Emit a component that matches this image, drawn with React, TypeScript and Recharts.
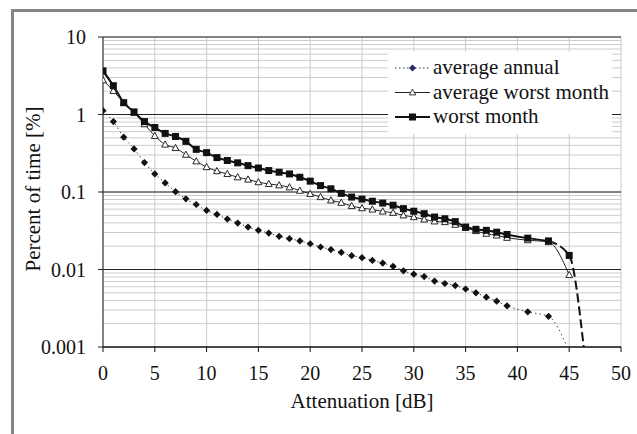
import React from "react";
import {
  LineChart,
  Line,
  XAxis,
  YAxis,
  CartesianGrid,
  ReferenceLine,
  Label,
} from "recharts";

// attenuation [dB] at which the curves were sampled
const attenuation = [
  0, 1, 2, 3, 4, 5, 6, 7, 8, 9, 10, 11, 12, 13, 14, 15, 16, 17, 18, 19, 20,
  21, 22, 23, 24, 25, 26, 27, 28, 29, 30, 31, 32, 33, 34, 35, 36, 37, 38, 39,
  41, 43, 45,
];

// percent of time [%]
const avgAnnual = [
  1.12, 0.81, 0.51, 0.36, 0.24, 0.171, 0.131, 0.101, 0.0817, 0.069, 0.0578,
  0.0513, 0.0447, 0.0397, 0.0353, 0.032, 0.0295, 0.0268, 0.025, 0.0234,
  0.0215, 0.0195, 0.0181, 0.0166, 0.0151, 0.0142, 0.0131, 0.0121, 0.011,
  0.0096, 0.0087, 0.0081, 0.0071, 0.0066, 0.0062, 0.0056, 0.005, 0.0044,
  0.0039, 0.0034, 0.00284, 0.00249,
];
const avgAnnualEnd = { x: 44.8, y: 0.001 };

const avgWorstMonth = [
  2.77, 2.02, 1.42, 1.05, 0.75, 0.53, 0.41, 0.37, 0.303, 0.249, 0.21, 0.186,
  0.171, 0.155, 0.145, 0.134, 0.127, 0.122, 0.115, 0.104, 0.0947, 0.0861,
  0.0781, 0.0728, 0.066, 0.0619, 0.0595, 0.0561, 0.054, 0.05, 0.0475, 0.0443,
  0.0418, 0.041, 0.0379, 0.0345, 0.0314, 0.029, 0.0275, 0.0257, 0.0239,
  0.0226, 0.0085,
];

const worstMonth = [
  3.65, 2.35, 1.42, 1.08, 0.81, 0.68, 0.57, 0.52, 0.45, 0.355, 0.322, 0.278,
  0.255, 0.238, 0.219, 0.204, 0.189, 0.18, 0.171, 0.155, 0.138, 0.121, 0.11,
  0.096, 0.086, 0.081, 0.076, 0.072, 0.0675, 0.061, 0.0565, 0.0525, 0.0475,
  0.0452, 0.0415, 0.0353, 0.033, 0.032, 0.0303, 0.0283, 0.0254, 0.0234,
  0.0152,
];
const worstMonthEnd = { x: 46.4, y: 0.001 };

const seriesNames = ["average annual", "average worst month", "worst month"];

const xTicks = [0, 5, 10, 15, 20, 25, 30, 35, 40, 45, 50];
const decades = [0.001, 0.01, 0.1, 1, 10];
const yGridValues = [
  0.001, 0.002, 0.003, 0.004, 0.005, 0.006, 0.007, 0.008, 0.009,
  0.01, 0.02, 0.03, 0.04, 0.05, 0.06, 0.07, 0.08, 0.09,
  0.1, 0.2, 0.3, 0.4, 0.5, 0.6, 0.7, 0.8, 0.9,
  1, 2, 3, 4, 5, 6, 7, 8, 9, 10,
];

const FONT = "'Liberation Serif', 'Times New Roman', serif";
const TICK_SIZE = 5;
const TICK_MARGIN = 12;

type Row = { x: number; y: number; mark: boolean };

const rows = (xs: number[], ys: number[]): Row[] =>
  ys.map((y, i) => ({ x: xs[i], y, mark: true }));

const annualData: Row[] = [
  ...rows(attenuation, avgAnnual),
  { ...avgAnnualEnd, mark: false },
];
const avgWorstData: Row[] = rows(attenuation, avgWorstMonth);
// solid part up to 43 dB, dashed fall-off afterwards
const worstData: Row[] = rows(attenuation, worstMonth).filter((r) => r.x <= 43);
const worstTail: Row[] = [
  ...rows(attenuation, worstMonth).filter((r) => r.x >= 43),
  { ...worstMonthEnd, mark: false },
].map((r) => ({ ...r, mark: r.x === 45 }));

const Diamond = (p: any) => {
  const { cx, cy, payload, index } = p;
  if (!payload?.mark || cx == null) return <g key={`d${index}`} />;
  const r = 3.6;
  return (
    <polygon
      key={`d${index}`}
      points={`${cx},${cy - r} ${cx + r},${cy} ${cx},${cy + r} ${cx - r},${cy}`}
      fill="#111"
    />
  );
};

const Triangle = (p: any) => {
  const { cx, cy, payload, index } = p;
  if (!payload?.mark || cx == null) return <g key={`t${index}`} />;
  return (
    <polygon
      key={`t${index}`}
      points={`${cx},${cy - 3.6} ${cx + 3.4},${cy + 2.6} ${cx - 3.4},${cy + 2.6}`}
      fill="#fff"
      stroke="#111"
      strokeWidth={0.9}
    />
  );
};

const Square = (p: any) => {
  const { cx, cy, payload, index } = p;
  if (!payload?.mark || cx == null) return <g key={`s${index}`} />;
  return <rect key={`s${index}`} x={cx - 3.5} y={cy - 3.5} width={7} height={7} fill="#111" />;
};

const YTick = (p: any) => {
  const { x, y, payload } = p;
  const v = payload.value;
  if (!decades.includes(v)) return <g />;
  const lx = x + TICK_MARGIN;
  return (
    <g>
      <line x1={lx} x2={lx + TICK_SIZE} y1={y} y2={y} stroke="#222" />
      <text x={x} y={y} dy="0.355em" textAnchor="end" fontFamily={FONT} fontSize={20} fill="#111">
        {String(v)}
      </text>
    </g>
  );
};

const LegendBox = () => {
  const kinds = ["diamond", "triangle", "square"];
  return (
    <svg width={224} height={82} style={{ display: "block" }}>
      {seriesNames.map((name, i) => {
        const kind = kinds[i];
        const cy = 16 + i * 24.5;
        const mx = 24.5;
        return (
          <g key={name}>
            {kind === "diamond" && (
              <>
                <line x1={7} x2={42} y1={cy} y2={cy} stroke="#333" strokeDasharray="1.5 2.5" />
                <polygon
                  points={`${mx},${cy - 3.5} ${mx + 3.5},${cy} ${mx},${cy + 3.5} ${mx - 3.5},${cy}`}
                  fill="#2a2a70"
                />
              </>
            )}
            {kind === "triangle" && (
              <>
                <line x1={7} x2={42} y1={cy} y2={cy} stroke="#222" strokeWidth={1} />
                <polygon
                  points={`${mx},${cy - 3.4} ${mx + 3.2},${cy + 2.4} ${mx - 3.2},${cy + 2.4}`}
                  fill="#fff"
                  stroke="#222"
                  strokeWidth={0.9}
                />
              </>
            )}
            {kind === "square" && (
              <>
                <line x1={7} x2={42} y1={cy} y2={cy} stroke="#111" strokeWidth={2.2} />
                <rect x={mx - 3.5} y={cy - 3.5} width={7} height={7} fill="#111" />
              </>
            )}
            <text x={45} y={cy + 6} fontFamily={FONT} fontSize={21} fill="#111">
              {name}
            </text>
          </g>
        );
      })}
    </svg>
  );
};

export default function App() {
  return (
    <div style={{ position: "absolute", left: 0, top: 0, width: 637, height: 434, background: "#fff" }}>
      <div style={{ position: "absolute", left: 11, top: 9, width: 3, height: 425, background: "#858585" }} />
      <div style={{ position: "absolute", left: 11, top: 9, width: 626, height: 3, background: "#858585" }} />
      <LineChart
        width={637}
        height={434}
        margin={{ top: 37, right: 16, bottom: 27, left: 0 }}
        style={{ position: "absolute", left: 0, top: 0 }}
      >
        <CartesianGrid horizontalStroke="#a8a8a8" verticalStroke="#5a5a5a" strokeWidth={1} />
        {decades.map((d) => (
          <ReferenceLine key={d} y={d} stroke="#222" strokeWidth={1.2} />
        ))}
        <XAxis
          dataKey="x"
          type="number"
          domain={[0, 50]}
          ticks={xTicks}
          height={60}
          allowDataOverflow
          stroke="#111"
          tickSize={TICK_SIZE}
          tickMargin={14}
          tick={{ fontFamily: FONT, fontSize: 20, fill: "#111" }}
        >
          <Label
            content={(props: any) => {
              const vb = props.viewBox;
              return (
                <text
                  x={vb.x + vb.width / 2}
                  y={vb.y + 61}
                  textAnchor="middle"
                  fontFamily={FONT}
                  fontSize={21}
                  fill="#111"
                >
                  Attenuation [dB]
                </text>
              );
            }}
          />
        </XAxis>
        <YAxis
          dataKey="y"
          scale="log"
          domain={[0.001, 10]}
          ticks={yGridValues}
          width={103}
          allowDataOverflow
          stroke="#222"
          tickLine={false}
          tickSize={TICK_SIZE}
          tickMargin={TICK_MARGIN}
          tick={<YTick />}
          interval={0}
        >
          <Label
            content={(props: any) => {
              const vb = props.viewBox;
              const cy = vb.y + vb.height / 2 - 3;
              return (
                <text
                  x={40}
                  y={cy}
                  transform={`rotate(-90 40 ${cy})`}
                  textAnchor="middle"
                  fontFamily={FONT}
                  fontSize={21}
                  fill="#111"
                >
                  Percent of time [%]
                </text>
              );
            }}
          />
        </YAxis>
        <Line
          data={annualData}
          dataKey="y"
          name={seriesNames[0]}
          type="monotone"
          stroke="#444"
          strokeWidth={1}
          strokeDasharray="1.5 3"
          dot={Diamond}
          activeDot={false}
          isAnimationActive={false}
        />
        <Line
          data={avgWorstData}
          dataKey="y"
          name={seriesNames[1]}
          type="monotone"
          stroke="#222"
          strokeWidth={1}
          dot={Triangle}
          activeDot={false}
          isAnimationActive={false}
        />
        <Line
          data={worstData}
          dataKey="y"
          name={seriesNames[2]}
          type="monotone"
          stroke="#111"
          strokeWidth={2}
          dot={Square}
          activeDot={false}
          isAnimationActive={false}
        />
        <Line
          data={worstTail}
          dataKey="y"
          name="worst month tail"
          type="monotone"
          stroke="#111"
          strokeWidth={2}
          strokeDasharray="9 4"
          dot={Square}
          activeDot={false}
          isAnimationActive={false}
        />
      </LineChart>
      <div style={{ position: "absolute", left: 388, top: 52, width: 224, height: 82, background: "#fff" }}>
        <LegendBox />
      </div>
    </div>
  );
}
